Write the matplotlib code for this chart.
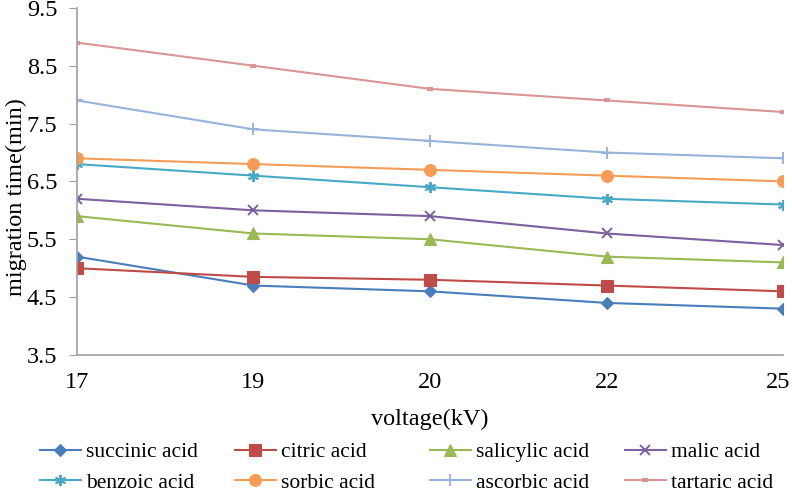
import matplotlib
matplotlib.use('Agg')
import matplotlib.pyplot as plt
import matplotlib.transforms as mtransforms
import numpy as np

# Data
voltages = ['17', '19', '20', '22', '25']
succinic = [5.2, 4.7, 4.6, 4.4, 4.3]
citric = [5.0, 4.85, 4.8, 4.7, 4.6]
salicylic = [5.9, 5.6, 5.5, 5.2, 5.1]
malic = [6.2, 6.0, 5.9, 5.6, 5.4]
benzoic = [6.8, 6.6, 6.4, 6.2, 6.1]
sorbic = [6.9, 6.8, 6.7, 6.6, 6.5]
ascorbic = [7.9, 7.4, 7.2, 7.0, 6.9]
tartaric = [8.9, 8.5, 8.1, 7.9, 7.7]

names = ['succinic acid', 'citric acid', 'salicylic acid', 'malic acid',
         'benzoic acid', 'sorbic acid', 'ascorbic acid', 'tartaric acid']
series = [succinic, citric, salicylic, malic, benzoic, sorbic, ascorbic, tartaric]

# Excel-like styling
colors = ['#4A7EBB', '#BE4B48', '#98B954', '#7D60A0', '#46AAC5', '#F59D56', '#97B3DA', '#DA9694']
markers = ['D', 's', '^', 'x', (6, 2, 0), 'o', '+', '_']
msizes = [6.5, 8, 8, 7, 8, 8.5, 8, 5]

plt.rcParams['font.family'] = ['Liberation Serif', 'DejaVu Serif']

fig = plt.figure(figsize=(7.92, 4.93), dpi=100)
ax = fig.add_axes([0.097, 0.28, 0.892, 0.704])

x = np.arange(len(voltages))
handles = []
for vals, name, c, m, ms in zip(series, names, colors, markers, msizes):
    thin = m in ('x', '+', '_') or isinstance(m, tuple)
    h, = ax.plot(x, vals, color=c, marker=m, markersize=ms, linewidth=1.5,
                 markeredgewidth=(3 if m == '_' else 1.4) if thin else 0.8,
                 markeredgecolor=c, label=name)
    handles.append(h)

ax.set_xlim(0, len(voltages) - 1)
ax.set_ylim(3.5, 9.5)
ax.set_xticks(x)
ax.set_xticklabels(voltages)
ax.set_yticks(np.arange(3.5, 9.6, 1.0))
ax.set_yticklabels(['3.5', '4.5', '5.5', '6.5', '7.5', '8.5', '9.5'])
ax.tick_params(axis='both', labelsize=17.5, color='#A0A0A0', length=6)
ax.tick_params(axis='y', pad=8)
ax.tick_params(axis='x', length=0, pad=12)

# last category label sits against the right edge, as in the original
last = ax.get_xticklabels()[-1]
last.set_horizontalalignment('right')
last.set_transform(last.get_transform() + mtransforms.ScaledTranslation(7 / 100, 0, fig.dpi_scale_trans))

for side in ['top', 'right']:
    ax.spines[side].set_visible(False)
for side in ['left', 'bottom']:
    ax.spines[side].set_color('#A0A0A0')
    ax.spines[side].set_linewidth(1.2)

ax.set_xlabel('voltage(kV)', fontsize=17.5, labelpad=12)
ax.set_ylabel('migration time(min)', fontsize=17.5)
ax.yaxis.set_label_coords(-0.071, 0.455)

# legend laid out row by row in four fixed-width columns, like the Excel original
col_x = [40, 235, 430, 625]
for i, cx in enumerate(col_x):
    fig.legend([handles[i], handles[i + 4]], [names[i], names[i + 4]],
               loc='upper left', bbox_to_anchor=(cx / 792, 1 - 442 / 493),
               frameon=False, fontsize=15.5, handlelength=1.9,
               handletextpad=0.22, borderpad=0, borderaxespad=0,
               labelspacing=0.5)

fig.savefig('out.png', dpi=100)
